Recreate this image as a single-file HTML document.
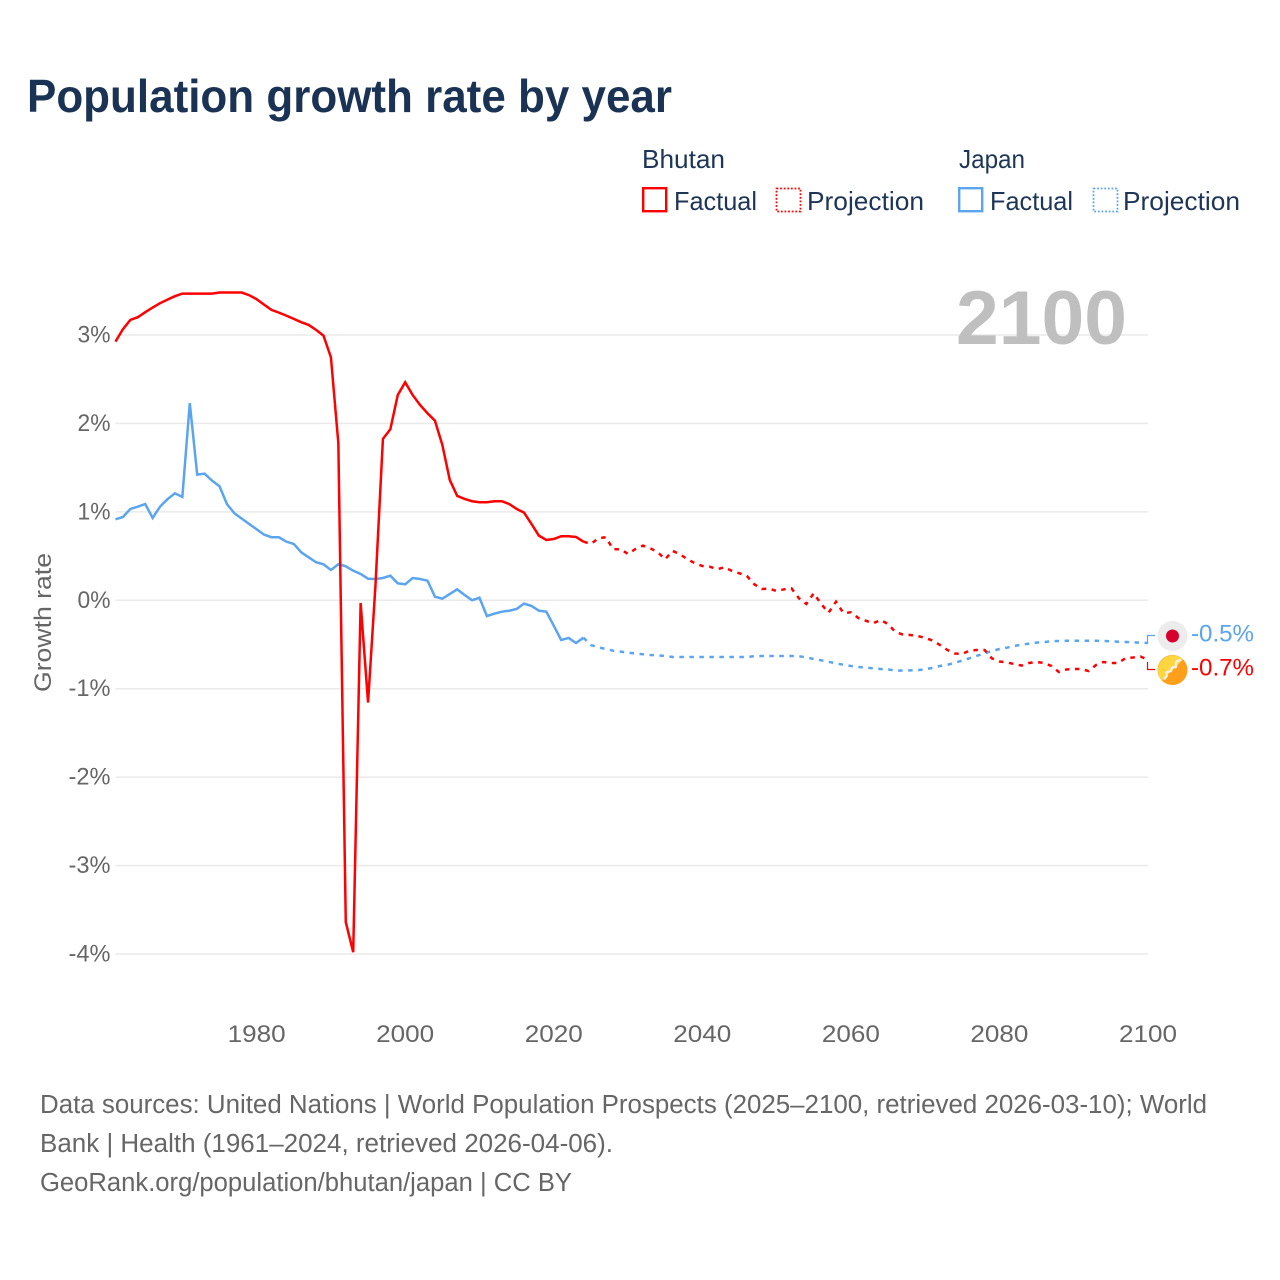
<!DOCTYPE html>
<html lang="en">
<head>
<meta charset="utf-8">
<title>Population growth rate by year</title>
<style>
html,body{margin:0;padding:0;background:#fff;}
svg{display:block;font-family:"Liberation Sans",sans-serif;}
</style>
</head>
<body>
<svg id="chart" xmlns="http://www.w3.org/2000/svg" width="1280" height="1280" viewBox="0 0 1280 1280">
  <rect x="0" y="0" width="1280" height="1280" fill="#ffffff"/>
  <text x="27" y="112" font-size="46" font-weight="700" fill="#1a3354" textLength="645" lengthAdjust="spacingAndGlyphs">Population growth rate by year</text>

  <g font-size="26" fill="#1d3557">
    <text x="642" y="168" textLength="83" lengthAdjust="spacingAndGlyphs">Bhutan</text>
    <rect x="643.2" y="188.2" width="23" height="23" fill="none" stroke="#ff0000" stroke-width="2.4"/>
    <text x="674" y="210" textLength="83" lengthAdjust="spacingAndGlyphs">Factual</text>
    <rect x="776.5" y="188.5" width="24" height="23" fill="none" stroke="#ff0000" stroke-width="1.8" stroke-dasharray="1.8 1.8"/>
    <text x="807" y="210" textLength="117" lengthAdjust="spacingAndGlyphs">Projection</text>
    <text x="959" y="168" textLength="66" lengthAdjust="spacingAndGlyphs">Japan</text>
    <rect x="959.2" y="188.2" width="23" height="23" fill="none" stroke="#5ba4ee" stroke-width="2.4"/>
    <text x="990" y="210" textLength="83" lengthAdjust="spacingAndGlyphs">Factual</text>
    <rect x="1093.5" y="188.5" width="24" height="23" fill="none" stroke="#5ba4ee" stroke-width="1.8" stroke-dasharray="1.8 1.8"/>
    <text x="1123" y="210" textLength="117" lengthAdjust="spacingAndGlyphs">Projection</text>
  </g>

  <g id="grid"></g>
  <text x="956" y="344" font-size="76" font-weight="700" fill="#bfbfbf" textLength="171" lengthAdjust="spacingAndGlyphs">2100</text>
  <g id="yticks" font-size="24" fill="#666666"></g>
  <g id="xticks" font-size="24" fill="#666666"></g>
  <text transform="translate(51,692) rotate(-90)" font-size="24" fill="#666666" textLength="139" lengthAdjust="spacingAndGlyphs">Growth rate</text>
  <g id="series"></g>

  <path d="M1147.5 643V635.5H1155" fill="none" stroke="#5ba4ee" stroke-width="1.2"/>
  <path d="M1147.5 662V669.5H1155" fill="none" stroke="#ff0000" stroke-width="1.2"/>

  <g>
    <circle cx="1172.5" cy="636" r="15" fill="#ececec"/>
    <circle cx="1172.5" cy="636" r="6.5" fill="#d7002f"/>
  </g>
  <g>
    <circle cx="1172.5" cy="670" r="15" fill="#ff9f1a"/>
    <path d="M1161.9 680.6A15 15 0 0 1 1183.1 659.4Z" fill="#ffd63f"/>
    <path d="M1164 679.5L1167 675.5L1166 672.5L1171 671L1172 667.5L1176 667L1176 662L1181 659.5" fill="none" stroke="#f4f0e6" stroke-width="2.4" stroke-linejoin="bevel"/>
  </g>
  <text x="1191" y="641.5" font-size="24" fill="#5ba4ee" textLength="63" lengthAdjust="spacingAndGlyphs">-0.5%</text>
  <text x="1191" y="675.5" font-size="24" fill="#ff0000" textLength="63" lengthAdjust="spacingAndGlyphs">-0.7%</text>

  <g font-size="25.5" fill="#666666">
    <text x="40" y="1113" textLength="1167" lengthAdjust="spacingAndGlyphs">Data sources: United Nations | World Population Prospects (2025–2100, retrieved 2026-03-10); World</text>
    <text x="40" y="1152" textLength="573" lengthAdjust="spacingAndGlyphs">Bank | Health (1961–2024, retrieved 2026-04-06).</text>
    <text x="40" y="1191" textLength="532" lengthAdjust="spacingAndGlyphs">GeoRank.org/population/bhutan/japan | CC BY</text>
  </g>
</svg>
<script>
const yTickValues = [3, 2, 1, 0, -1, -2, -3, -4];
const xTickValues = [1980, 2000, 2020, 2040, 2060, 2080, 2100];
const factualStartYear = 1961;
const projectionStartYear = 2025;
const bhutanFactual = [2.925,3.066,3.171,3.201,3.258,3.310,3.360,3.400,3.439,3.468,
  3.468,3.468,3.468,3.468,3.480,3.480,3.480,3.480,3.450,3.405,
  3.344,3.284,3.253,3.219,3.182,3.145,3.114,3.058,2.993,2.749,
  1.776,-3.639,-3.979,-0.031,-1.156,0.173,1.825,1.934,2.322,2.466,
  2.322,2.209,2.115,2.032,1.757,1.361,1.180,1.146,1.120,1.109,
  1.109,1.120,1.120,1.089,1.033,0.991,0.863,0.731,0.682,0.693,
  0.724,0.724,0.716,0.663];
const bhutanProjection = [0.637,0.701,0.713,0.577,0.577,0.524,0.580,0.618,0.588,0.543,
  0.464,0.558,0.520,0.464,0.419,0.388,0.380,0.351,0.373,0.331,
  0.305,0.275,0.181,0.128,0.131,0.105,0.124,0.136,0.023,-0.042,
  0.079,-0.042,-0.140,-0.016,-0.144,-0.136,-0.200,-0.231,-0.260,-0.223,
  -0.268,-0.359,-0.387,-0.393,-0.404,-0.426,-0.455,-0.506,-0.562,-0.602,
  -0.607,-0.568,-0.562,-0.562,-0.658,-0.692,-0.704,-0.721,-0.738,-0.709,
  -0.698,-0.709,-0.743,-0.811,-0.783,-0.777,-0.777,-0.800,-0.732,-0.698,
  -0.709,-0.709,-0.653,-0.647,-0.636,-0.675];
const japanFactual = [0.916,0.942,1.033,1.059,1.089,0.931,1.059,1.143,1.210,1.169,
  2.229,1.421,1.432,1.353,1.290,1.089,0.984,0.923,0.863,0.803,
  0.742,0.713,0.713,0.663,0.637,0.543,0.486,0.430,0.407,0.343,
  0.407,0.385,0.335,0.298,0.244,0.241,0.252,0.278,0.192,0.181,
  0.252,0.241,0.222,0.041,0.018,0.071,0.124,0.060,0.000,0.029,
  -0.178,-0.152,-0.129,-0.118,-0.098,-0.038,-0.064,-0.118,-0.129,-0.287,
  -0.449,-0.426,-0.483,-0.423];
const japanProjection = [-0.506,-0.532,-0.551,-0.570,-0.581,-0.593,-0.600,-0.611,-0.619,-0.622,
  -0.630,-0.641,-0.641,-0.641,-0.641,-0.641,-0.642,-0.642,-0.641,-0.641,
  -0.641,-0.641,-0.633,-0.630,-0.630,-0.630,-0.630,-0.630,-0.633,-0.645,
  -0.664,-0.679,-0.695,-0.713,-0.729,-0.743,-0.755,-0.762,-0.769,-0.777,
  -0.781,-0.796,-0.794,-0.792,-0.790,-0.781,-0.764,-0.743,-0.730,-0.707,
  -0.681,-0.655,-0.627,-0.600,-0.574,-0.551,-0.536,-0.517,-0.501,-0.490,
  -0.479,-0.472,-0.464,-0.460,-0.458,-0.457,-0.457,-0.457,-0.458,-0.460,
  -0.464,-0.469,-0.472,-0.475,-0.480,-0.483];

const SVG_NS = 'http://www.w3.org/2000/svg';
const xMin = 1961, xMax = 2100, pxLeft = 115.5, pxRight = 1148;
const yTop = 3, yBottom = -4, pxTop = 335, pxBottom = 954;
function xScale(year) {
  return pxLeft + (year - xMin) * (pxRight - pxLeft) / (xMax - xMin);
}
function yScale(value) {
  return pxTop + (yTop - value) * (pxBottom - pxTop) / (yTop - yBottom);
}
function make(tag, attrs, parent) {
  const el = document.createElementNS(SVG_NS, tag);
  for (const key in attrs) el.setAttribute(key, attrs[key]);
  parent.appendChild(el);
  return el;
}
function linePath(values, startYear) {
  return values.map(function (v, i) {
    return (i ? 'L' : 'M') + xScale(startYear + i).toFixed(2) + ' ' + yScale(v).toFixed(2);
  }).join('');
}

const grid = document.getElementById('grid');
const yticks = document.getElementById('yticks');
const xticks = document.getElementById('xticks');
const series = document.getElementById('series');

yTickValues.forEach(function (v) {
  const line = make('line', {x1: pxLeft, x2: pxRight, y1: yScale(v), y2: yScale(v), stroke: '#eaeaea', 'stroke-width': 1.5}, grid);
  
  
  const t = make('text', {x: 110.5, y: yScale(v) + 7.5, 'text-anchor': 'end', textLength: v < 0 ? 42 : 33, lengthAdjust: 'spacingAndGlyphs'}, yticks);
  
  
  t.textContent = v + '%';
});
xTickValues.forEach(function (y) {
  const t = make('text', {x: xScale(y), y: 1042, 'text-anchor': 'middle', textLength: 58, lengthAdjust: 'spacingAndGlyphs'}, xticks);
  
  
  t.textContent = y;
});

function drawSeries(factual, projection, color, width) {
  const joined = [factual[factual.length - 1]].concat(projection);
  const solid = make('path', {d: linePath(factual, factualStartYear), fill: 'none', stroke: color, 'stroke-width': width, 'stroke-linejoin': 'miter'}, series);
  
  
  const dashed = make('path', {d: linePath(joined, projectionStartYear - 1), fill: 'none', stroke: color, 'stroke-width': width, 'stroke-dasharray': '4.5 5.5'}, series);
  
  
}
drawSeries(japanFactual, japanProjection, '#5ba4ee', 2.5);
drawSeries(bhutanFactual, bhutanProjection, '#ff0000', 2.5);
</script>
</body>
</html>
